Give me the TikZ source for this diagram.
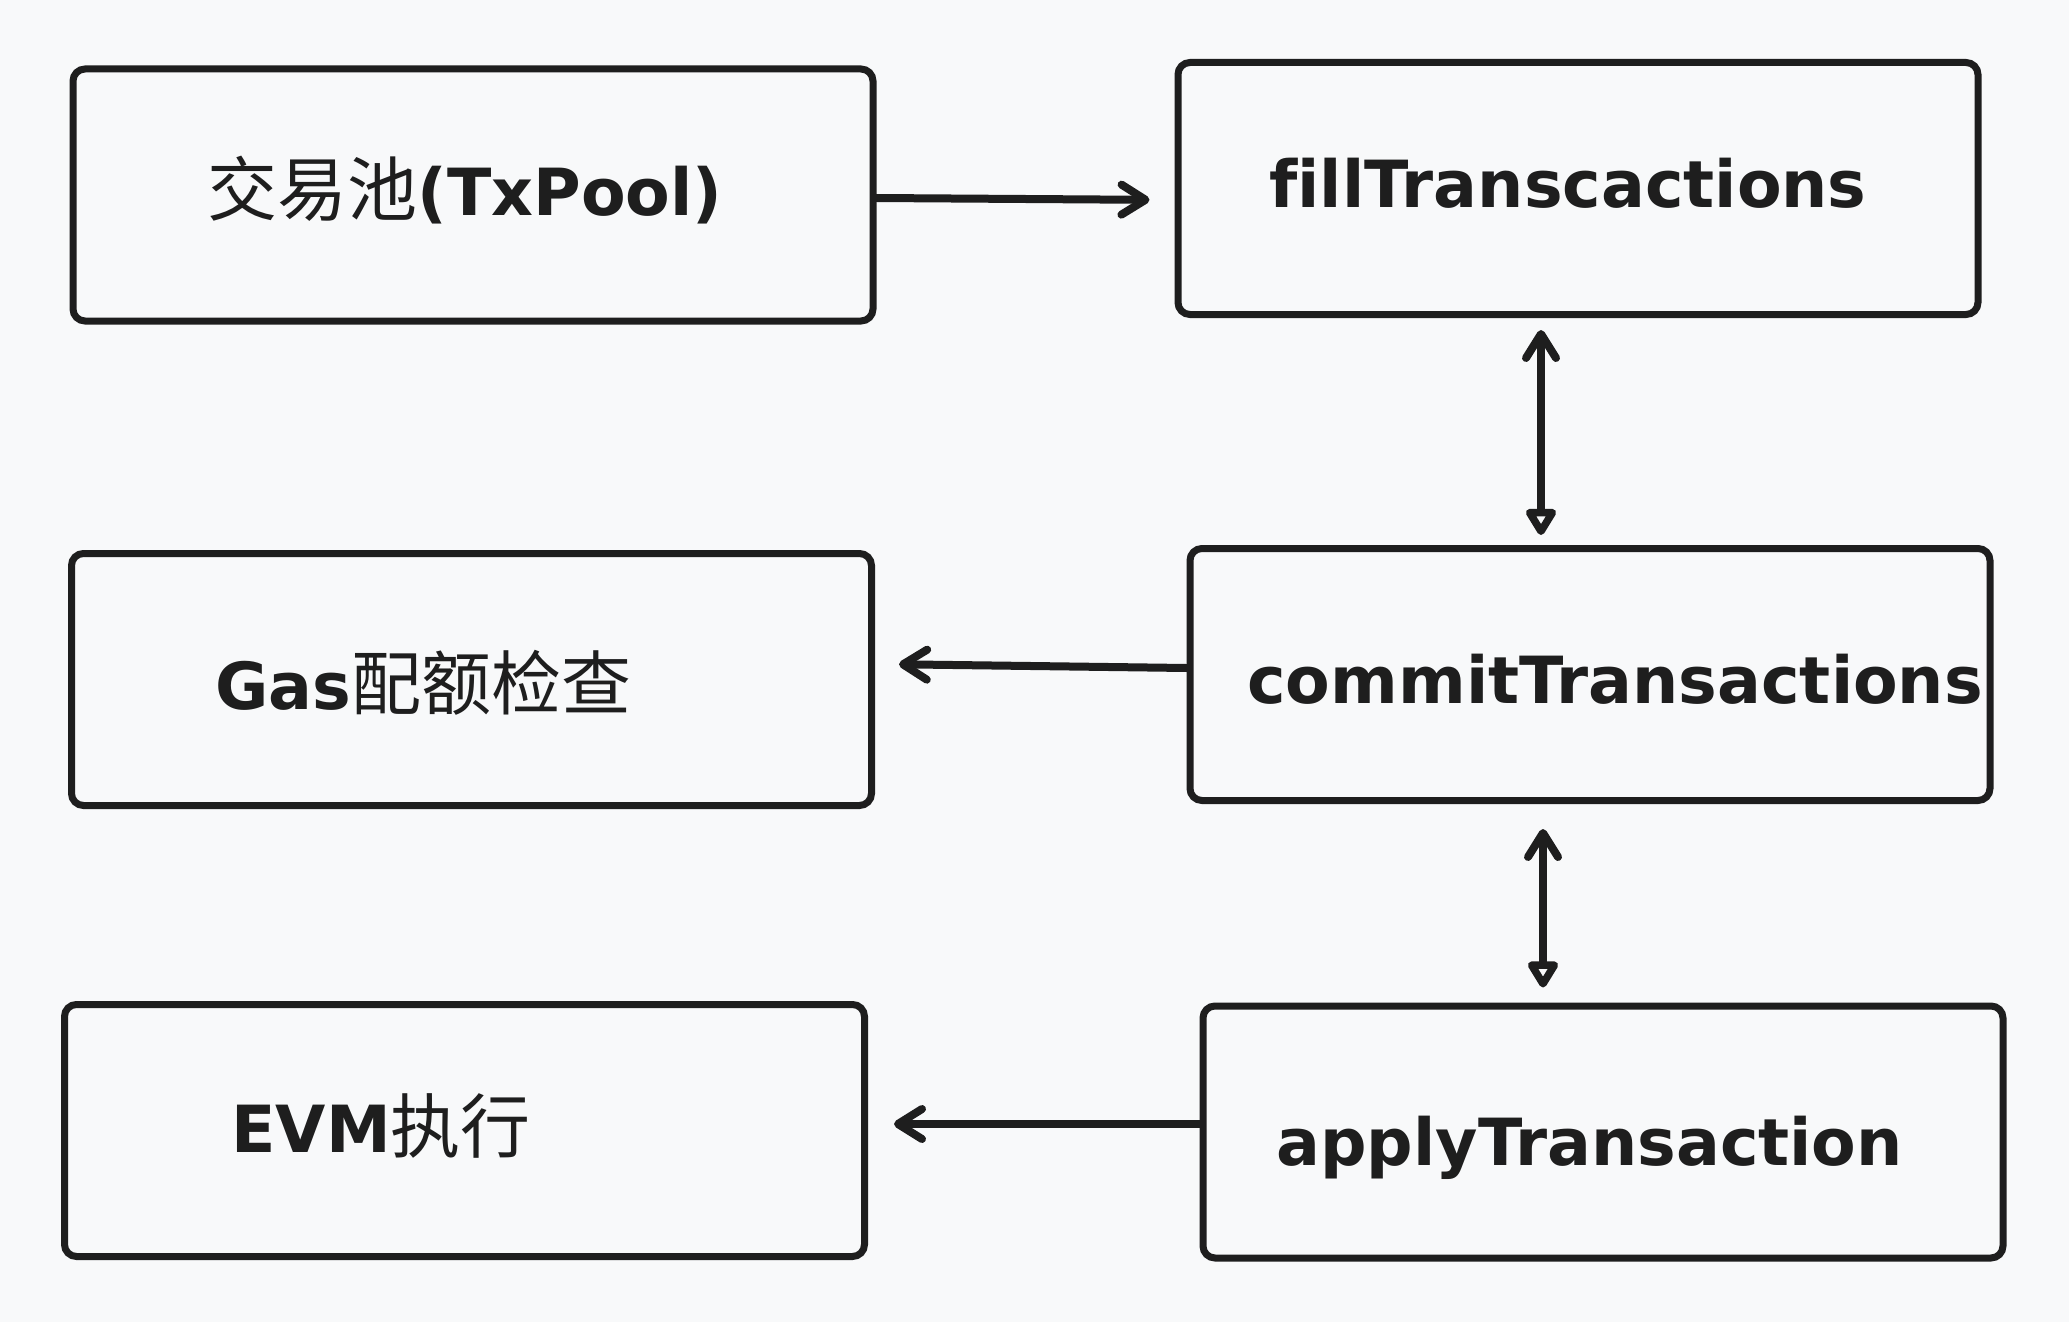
\documentclass[tikz,border=0pt]{standalone}
\usepackage{fontspec}
\usepackage{xcolor}
\usepackage{tikz}
\usetikzlibrary{arrows.meta}
\newfontfamily\hand[Ligatures=NoCommon]{DejaVu Sans}
\newfontfamily\cjk{Noto Sans CJK SC}
\definecolor{ink}{HTML}{1E1E1E}
\definecolor{paper}{HTML}{F8F9FA}

\begin{document}
\begin{tikzpicture}[x=0.5pt,y=-0.5pt,
		box/.style={draw=ink,line width=3.5pt,rounded corners=6pt,minimum width=400pt,minimum height=126pt,inner sep=0pt},
		lbl/.style={anchor=base west,inner sep=0pt,text=ink,font=\hand\bfseries\fontsize{32.5}{38}\selectfont},
		arr/.style={draw=ink,line width=4pt,line cap=round,-{Straight Barb[round,length=12pt,width=15pt]}},
		dbl/.style={draw=ink,line width=4pt,line cap=round,{Straight Barb[round,length=12pt,width=15pt]}-{Triangle[open,round,length=15pt,width=17pt]}}]
			% Nền
			\fill[paper] (0,0) rectangle (2069,1322);
			\useasboundingbox (0,0) rectangle (2069,1322);
			% Các khối
			\node[box] (pool) at (473,195) {};
			\node[box] (fill) at (1578,188.5) {};
			\node[box] (gas) at (471.5,679.5) {};
			\node[box] (commit) at (1590,674.5) {};
			\node[box] (evm) at (464.5,1130.5) {};
			\node[box] (apply) at (1603,1132) {};
			% Chữ
			\node[lbl] (poolt) at (207,216) {{\cjk\mdseries\fontsize{35}{40}\selectfont 交易池}(TxPool)};
			\node[lbl] (fillt) at (1269,207) {fillTranscactions};
			\node[lbl] (gast) at (215,709) {Gas{\cjk\mdseries\fontsize{35}{40}\selectfont 配额检查}};
			\node[lbl] (committ) at (1247,703) {commitTransactions};
			\node[lbl] (evmt) at (231,1152) {EVM{\cjk\mdseries\fontsize{35}{40}\selectfont 执行}};
			\node[lbl] (applyt) at (1276,1165) {applyTransaction};
			% Mũi tên
			\draw[arr,shorten >=12.5pt] ([yshift=-1.5pt]pool.east) -- ([yshift=-5.75pt]fill.west);
			\draw[dbl,shorten <=6pt,shorten >=5pt] ([xshift=-18.5pt]fill.south) -- ([xshift=-24.5pt]commit.north);
			\draw[arr,shorten >=12pt] ([yshift=3.25pt]commit.west) -- ([yshift=7.75pt]gas.east);
			\draw[dbl,shorten <=12.5pt,shorten >=7.5pt] ([xshift=-23.5pt]commit.south) -- ([xshift=-30pt]apply.north);
			\draw[arr,shorten >=13pt] ([yshift=4pt]apply.west) -- ([yshift=3.25pt]evm.east);
		\end{tikzpicture}
\end{document}
